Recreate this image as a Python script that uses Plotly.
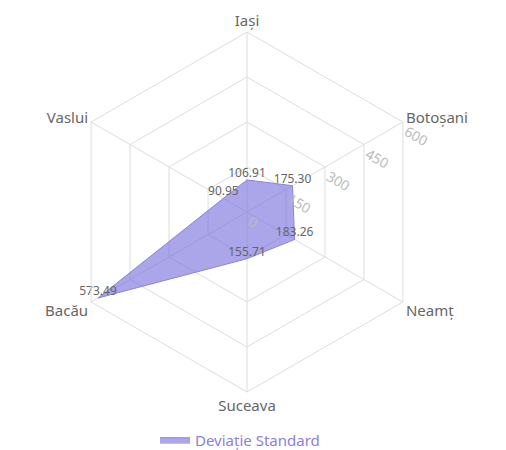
import plotly.graph_objects as go

categories = ["Iași", "Botoșani", "Neamț", "Suceava", "Bacău", "Vaslui"]
values = [106.91, 175.30, 183.26, 155.71, 573.49, 90.95]
series_name = "Deviație Standard"
radial_ticks = [0, 150, 300, 450, 600]

theta = categories + [categories[0]]
r = values + [values[0]]
labels = [f"{v:.2f}" for v in values] + [""]

fig = go.Figure()
fig.add_trace(go.Scatterpolar(
    r=r, theta=theta, name=series_name,
    mode="lines+text", text=labels, textposition="top center",
    textfont=dict(size=12, color="#666666"),
    fill="toself", fillcolor="rgba(120,110,220,0.62)",
    line=dict(color="#8b84dc", width=1),
))

W, H = 506, 450
off = 8  # page body margin
cx, cy, R = 247 - off, 212 - off, 180
fig.update_layout(
    width=W, height=H,
    margin=dict(l=0, r=0, t=0, b=0),
    paper_bgcolor="white",
    font=dict(family="Noto Sans, Open Sans, sans-serif"),
    showlegend=True,
    legend=dict(orientation="h", x=(240 - off) / W, xanchor="center",
                y=1 - (440 - off) / H, yanchor="middle",
                font=dict(size=15, color="#8a80e0")),
    polar=dict(
        domain=dict(x=[(cx - R) / W, (cx + R) / W], y=[(H - cy - R) / H, (H - cy + R) / H]),
        bgcolor="white",
        gridshape="linear",
        angularaxis=dict(rotation=90, direction="clockwise", showline=True,
                         linecolor="#dddddd", gridcolor="#dddddd",
                         tickfont=dict(size=15, color="#666666"), ticks=""),
        radialaxis=dict(range=[0, 600], tickvals=radial_ticks, angle=30, tickangle=60,
                        showline=False, gridcolor="#dddddd",
                        tickfont=dict(size=14, color="#bbbbbb"), ticks=""),
    ),
)
fig.write_html("out.html")
